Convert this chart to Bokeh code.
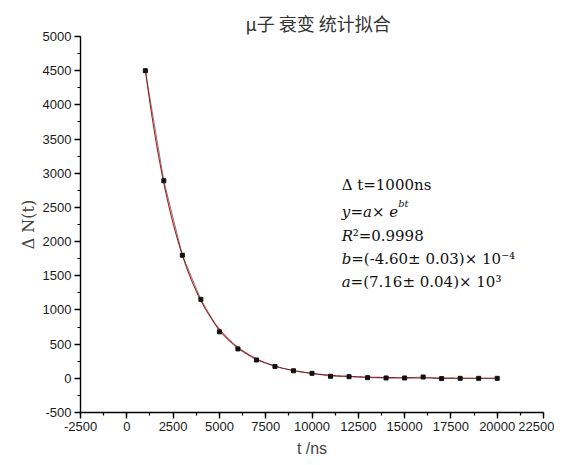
import numpy as np
from bokeh.plotting import figure
from bokeh.models import (Range1d, SingleIntervalTicker, Label, Title, ColumnDataSource,
                          CustomJSTickFormatter)
from bokeh.embed import file_html
from bokeh.resources import INLINE

# ---- data ----
t_ns = [1000, 2000, 3000, 4000, 5000, 6000, 7000, 8000, 9000, 10000,
        11000, 12000, 13000, 14000, 15000, 16000, 17000, 18000, 19000, 20000]
dN = [4500, 2890, 1800, 1155, 680, 430, 268, 174, 110, 73,
      30, 24, 10, 5, 5, 19, -4, 0, 0, 0]
fit_a = 7160.0
fit_b = -4.60e-4
x_ticks_interval = 2500
y_ticks_interval = 500
title_text = "μ子 衰变 统计拟合"
x_label = "t /ns"
y_label = "Δ N(t)"

fit_t = np.linspace(t_ns[0], t_ns[-1], 300)
fit_y = fit_a * np.exp(fit_b * fit_t)

p = figure(width=554, height=459, output_backend="svg", toolbar_location=None,
           x_range=Range1d(-2500, 22500), y_range=Range1d(-500, 5000),
           min_border_left=80, min_border_right=11, min_border_top=36,
           min_border_bottom=47)
p.outline_line_color = None
p.grid.visible = False
p.background_fill_color = "white"
p.border_fill_color = "white"

p.title = Title(text=title_text, text_font="Noto Sans CJK SC", text_font_size="18px",
                text_font_style="normal", text_color="#333333", align="left",
                offset=165, standoff=2)

p.line(fit_t, fit_y, line_color="#c01818", line_width=1.1)
src = ColumnDataSource(dict(t=t_ns, n=dN))
p.line("t", "n", source=src, line_color="#333333", line_width=0.8, line_alpha=0.8)
p.scatter("t", "n", source=src, marker="square", size=4, color="#111111")

fmt = CustomJSTickFormatter(code="return tick.toString();")
p.xaxis.ticker = SingleIntervalTicker(interval=x_ticks_interval, num_minor_ticks=2)
p.yaxis.ticker = SingleIntervalTicker(interval=y_ticks_interval, num_minor_ticks=2)
for ax in (p.xaxis[0], p.yaxis[0]):
    ax.formatter = fmt
    ax.axis_line_color = "black"
    ax.axis_line_width = 1.4
    ax.major_tick_line_color = "black"
    ax.minor_tick_line_color = "black"
    ax.major_tick_line_width = 1.4
    ax.minor_tick_line_width = 1.2
    ax.major_tick_out = 6
    ax.major_tick_in = 0
    ax.minor_tick_out = 3
    ax.minor_tick_in = 0
    ax.major_label_text_font = "Liberation Sans"
    ax.major_label_text_font_size = "13px"
    ax.major_label_text_color = "#1a1a1a"
    ax.major_label_standoff = 3

p.xaxis.axis_label = x_label
p.xaxis.axis_label_text_font = "Liberation Sans"
p.xaxis.axis_label_text_font_size = "16px"
p.xaxis.axis_label_text_font_style = "normal"
p.xaxis.axis_label_standoff = 6
p.yaxis.axis_label = y_label
p.yaxis.axis_label_text_font = "DejaVu Serif"
p.yaxis.axis_label_text_font_size = "16px"
p.yaxis.axis_label_text_font_style = "normal"
p.yaxis.axis_label_standoff = 2

# ---- annotation text ----
FS = 15
ax0 = 11600
rows_y = [2831, 2435, 2083, 1745, 1408]

def seg(text, x_off, y, italic=False, size=FS, y_off=0):
    p.add_layout(Label(x=ax0, y=y, x_offset=x_off, y_offset=y_off, text=text,
                       text_font="DejaVu Serif", text_font_size=f"{size}px",
                       text_font_style="italic" if italic else "normal",
                       text_color="#111111", text_baseline="alphabetic"))

seg("Δ t=1000ns", 0, rows_y[0])
# y=a× e^bt
w_y, w_eq, w_a, w_x, w_e = 0.59 * FS, 0.838 * FS, 0.596 * FS, 1.156 * FS, 0.592 * FS
x = 0
seg("y", x, rows_y[1], italic=True); x += w_y
seg("=", x, rows_y[1]); x += w_eq
seg("a", x, rows_y[1], italic=True); x += w_a
seg("× ", x, rows_y[1]); x += w_x
seg("e", x, rows_y[1], italic=True); x += w_e
seg("bt", x, rows_y[1], italic=True, size=10, y_off=8)
# R^2
seg("R", 0, rows_y[2], italic=True)
seg("²=0.9998", 0.734 * FS, rows_y[2])
# b
seg("b", 0, rows_y[3], italic=True)
seg("=(-4.60± 0.03)× 10⁻⁴", 0.64 * FS, rows_y[3])
# a
seg("a", 0, rows_y[4], italic=True)
seg("=(7.16± 0.04)× 10³", 0.596 * FS, rows_y[4])

open("out.html", "w").write(file_html(p, INLINE))
